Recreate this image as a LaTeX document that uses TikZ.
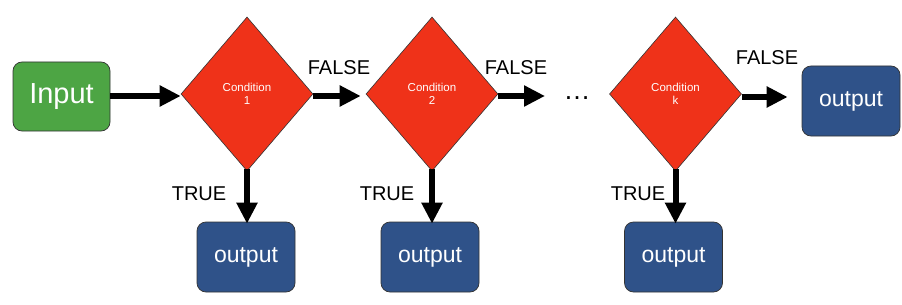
\documentclass[tikz,border=0pt]{standalone}
\usepackage{fontspec}
\setmainfont{Liberation Sans}
\usetikzlibrary{shapes.geometric,arrows.meta}
\definecolor{ingreen}{HTML}{4DA544}
\definecolor{condred}{HTML}{EF3219}
\definecolor{outblue}{HTML}{2F5289}
\tikzset{
  inbox/.style={draw=black!80,line width=0.7pt,fill=ingreen,rounded corners=9pt,minimum width=97pt,minimum height=69pt,inner sep=0pt,text=white,font=\fontsize{29}{32}\selectfont},
  outbox/.style={draw=black!80,line width=0.7pt,fill=outblue,rounded corners=9pt,minimum width=98pt,minimum height=70pt,inner sep=0pt,text=white,font=\fontsize{23}{26}\selectfont},
  cond/.style={draw=black!80,line width=0.6pt,fill=condred,diamond,minimum width=132pt,minimum height=154pt,inner sep=0pt,text=white,align=center,font=\fontsize{11.5}{13}\selectfont},
  lbl/.style={inner sep=0pt,font=\fontsize{20}{22}\selectfont},
  bigarrow/.style={line width=6pt,-{Triangle[length=21pt,width=20pt]}}
}
\begin{document}
\begin{tikzpicture}[x=1pt,y=-1pt]
\useasboundingbox (0,0) rectangle (902,305);
\node[inbox] (in) at (61.5,96.5) {Input};
\node[cond] (c1) at (247,94) {Condition\\1};
\node[cond] (c2) at (432,94) {Condition\\2};
\node[cond] (ck) at (675.5,94) {Condition\\k};
\node[outbox] (o1) at (246,257) {output};
\node[outbox] (o2) at (430,257) {output};
\node[outbox] (ok) at (673.5,257) {output};
\node[outbox] (of) at (851,101) {output};
\node[lbl,font=\fontsize{27}{28}\selectfont] (dots) at (577,98) {…};
\coordinate (dend) at (545,96);
\node[lbl] (f1) at (339,68) {FALSE};
\node[lbl] (f2) at (516,68) {FALSE};
\node[lbl] (fk) at (767,58) {FALSE};
\node[lbl] (t1) at (199,194) {TRUE};
\node[lbl] (t2) at (387,194) {TRUE};
\node[lbl] (tk) at (638,194) {TRUE};
\draw[bigarrow] (in.east |- 0,96) -- (c1.west |- 0,96);
\draw[bigarrow] (c1.east |- 0,96) -- ([xshift=-5pt]c2.west |- 0,96);
\draw[bigarrow] (c2.east |- 0,96) -- (dend);
\draw[bigarrow] (ck.east |- 0,97) -- ([xshift=-14pt]of.west |- 0,97);
\draw[bigarrow] ([yshift=2pt]c1.south) -- ([yshift=-2pt]o1.north -| c1.south);
\draw[bigarrow] ([yshift=2pt]c2.south) -- ([yshift=-2pt]o2.north -| c2.south);
\draw[bigarrow] ([yshift=2pt]ck.south) -- ([yshift=-2pt]ok.north -| ck.south);
\end{tikzpicture}
\end{document}
